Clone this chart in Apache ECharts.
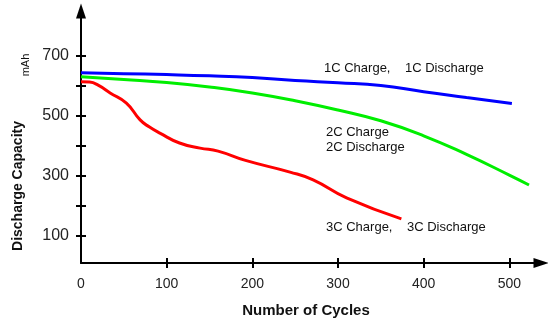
<!DOCTYPE html>
<html>
<head>
<meta charset="utf-8">
<script src="https://cdn.jsdelivr.net/npm/echarts@6/dist/echarts.min.js"></script>
<style>
  html, body { margin: 0; padding: 0; background: #fff; }
  #chart { width: 548px; height: 323px; }
</style>
</head>
<body>
<div id="chart"></div>
<script>
// cycles / capacity (mAh)
var cycles1C = [0, 50, 100, 150, 200, 250, 300, 350, 400, 450, 503];
var cap1C    = [644, 641, 638, 634, 628, 618, 611, 602, 581, 562, 542];

var cycles2C = [0, 50, 100, 150, 200, 250, 300, 350, 400, 450, 500, 523];
var cap2C    = [631, 622, 612, 597, 577, 551, 520, 484, 434, 372, 303, 270];

var cycles3C = [0, 10, 20, 34, 53, 69, 80, 92, 115, 139, 160, 192, 244, 271, 310, 374];
var cap3C    = [614, 613, 603, 577, 543, 487, 463, 443, 410, 393, 383, 352, 313, 287, 227, 157];

var xTicks = [100, 200, 300, 400, 500];
var xLabels = [0, 100, 200, 300, 400, 500];
var yTicks = [100, 200, 300, 400, 500, 600, 700];
var yLabels = [100, 300, 500, 700];

function pairs(xs, ys) {
    return xs.map(function (x, i) { return [x, ys[i]]; });
}

var chart = echarts.init(document.getElementById('chart'), null, {renderer: 'canvas'});

var axisLine = {
    show: true,
    onZero: false,
    symbol: ['none', 'triangle'],
    symbolSize: [10, 15],
    lineStyle: {color: '#000', width: 2}
};

var option = {
    animation: false,
    backgroundColor: '#fff',
    grid: {left: 81, right: 7, top: 11, bottom: 60, containLabel: false},
    xAxis: [
        {
            type: 'value', min: 0, max: 537, position: 'bottom',
            axisLine: axisLine,
            axisTick: {show: true, inside: false, length: 5, customValues: xTicks,
                lineStyle: {color: '#000', width: 2}},
            axisLabel: {customValues: xLabels, fontSize: 14, margin: 14, color: '#222',
                fontFamily: 'Liberation Sans, Arial'},
            splitLine: {show: false}
        },
        {
            type: 'value', min: 0, max: 537, position: 'bottom',
            axisLine: {show: false, onZero: false},
            axisTick: {show: true, inside: true, length: 5, customValues: xTicks,
                lineStyle: {color: '#000', width: 2}},
            axisLabel: {show: false},
            splitLine: {show: false}
        }
    ],
    yAxis: [
        {
            type: 'value', min: 10, max: 850, position: 'left',
            axisLine: axisLine,
            axisTick: {show: true, inside: false, length: 5, customValues: yTicks,
                lineStyle: {color: '#000', width: 2}},
            axisLabel: {customValues: yLabels, fontSize: 16, margin: 12, color: '#222',
                fontFamily: 'Liberation Sans, Arial'},
            splitLine: {show: false}
        },
        {
            type: 'value', min: 10, max: 850, position: 'left',
            axisLine: {show: false, onZero: false},
            axisTick: {show: true, inside: true, length: 5, customValues: yTicks,
                lineStyle: {color: '#000', width: 2}},
            axisLabel: {show: false},
            splitLine: {show: false}
        }
    ],
    series: [
        {
            name: '1C', type: 'line', smooth: true, showSymbol: false,
            lineStyle: {color: '#0000ff', width: 3},
            data: pairs(cycles1C, cap1C)
        },
        {
            name: '2C', type: 'line', smooth: true, showSymbol: false,
            lineStyle: {color: '#00ee00', width: 3},
            data: pairs(cycles2C, cap2C)
        },
        {
            name: '3C', type: 'line', smooth: true, showSymbol: false,
            lineStyle: {color: '#ff0000', width: 3},
            data: pairs(cycles3C, cap3C)
        }
    ],
    graphic: [
        {type: 'text', left: 324, top: 62,
            style: {text: '1C Charge,    1C Discharge', font: '13px "Liberation Sans", Arial', fill: '#111'}},
        {type: 'text', left: 326, top: 126,
            style: {text: '2C Charge', font: '13px "Liberation Sans", Arial', fill: '#111'}},
        {type: 'text', left: 326, top: 141,
            style: {text: '2C Discharge', font: '13px "Liberation Sans", Arial', fill: '#111'}},
        {type: 'text', left: 326, top: 221,
            style: {text: '3C Charge,    3C Discharge', font: '13px "Liberation Sans", Arial', fill: '#111'}},
        {type: 'text', x: 306, y: 311,
            style: {text: 'Number of Cycles', font: 'bold 15px "Liberation Sans", Arial', fill: '#111',
                align: 'center', verticalAlign: 'middle'}},
        {type: 'text', x: 18, y: 186, rotation: Math.PI / 2,
            style: {text: 'Discharge Capacity', font: 'bold 14px "Liberation Sans", Arial', fill: '#111',
                align: 'center', verticalAlign: 'middle'}},
        {type: 'text', x: 26, y: 65, rotation: Math.PI / 2,
            style: {text: 'mAh', font: '11px "Liberation Sans", Arial', fill: '#111',
                align: 'center', verticalAlign: 'middle'}}
    ]
};

chart.setOption(option);
</script>
</body>
</html>
